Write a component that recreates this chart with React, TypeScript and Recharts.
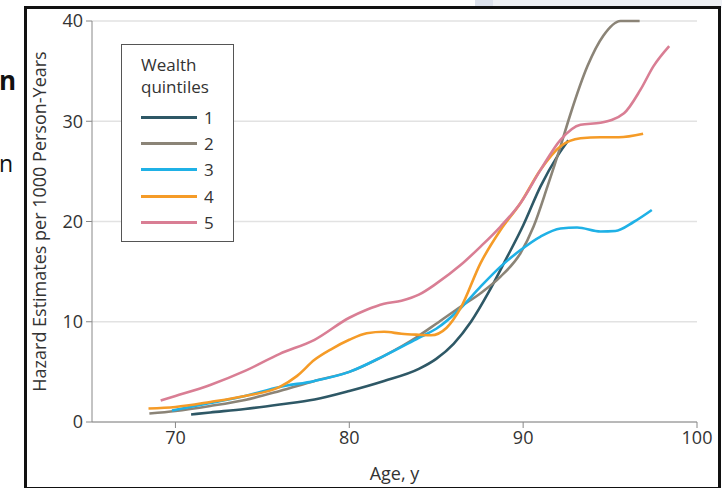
import React from 'react';
import { LineChart, Line, XAxis, YAxis, CartesianGrid, Legend } from 'recharts';

const FONT = "'Open Sans', 'Liberation Sans', sans-serif";

const quintiles = ['1', '2', '3', '4', '5'];
const colors = ['#2e5866', '#8b8477', '#1fb1e6', '#f59b27', '#d97e94'];

const ageQ1 = [70.9, 72, 74, 76, 78, 80, 82, 84, 85, 86, 87, 88, 89, 90, 91, 92, 92.6];
const rateQ1 = [0.75, 0.95, 1.3, 1.75, 2.25, 3.1, 4.1, 5.3, 6.3, 7.8, 10.0, 12.9, 16.2, 19.6, 23.5, 26.6, 28.1];

const ageQ2 = [68.5, 70, 72, 74, 76, 78, 80, 82, 84, 85, 86.4, 87.55, 88.7, 89.85, 90.6, 91.4, 92.15, 92.7, 93.7, 94.6, 95.6, 96.7];
const rateQ2 = [0.85, 1.1, 1.6, 2.2, 3.1, 4.1, 5.0, 6.6, 8.6, 9.8, 11.5, 12.85, 14.5, 16.85, 19.5, 23.5, 27.5, 30.6, 35.5, 38.5, 40.0, 40.0];

const ageQ3 = [69.8, 72, 74, 76, 78, 80, 82, 84, 85, 86.4, 87.55, 88.7, 89.85, 91, 92.15, 93.1, 94.45, 95.3, 96.35, 97.4];
const rateQ3 = [1.15, 1.9, 2.6, 3.5, 4.1, 5.0, 6.6, 8.4, 9.3, 11.35, 13.5, 15.5, 17.15, 18.5, 19.3, 19.4, 19.0, 19.05, 19.95, 21.15];

const ageQ4 = [68.45, 70, 72, 74, 76, 77, 78, 79, 80, 81, 82, 83, 84, 84.7, 85.6, 86.4, 87.55, 88.7, 89.85, 91, 92.15, 93.3, 94.45, 95.5, 96.9];
const rateQ4 = [1.35, 1.5, 2.0, 2.6, 3.5, 4.6, 6.2, 7.3, 8.2, 8.85, 9.0, 8.8, 8.7, 8.65, 9.4, 11.35, 15.85, 19.15, 21.85, 25.15, 27.5, 28.3, 28.4, 28.4, 28.75];

const ageQ5 = [69.15, 70, 72, 74, 76, 78, 80, 81, 82, 83, 84, 85, 86.4, 87.55, 88.7, 89.85, 91, 92.15, 93.3, 94.45, 95.8, 96.75, 97.5, 98.4];
const rateQ5 = [2.15, 2.6, 3.7, 5.1, 6.8, 8.2, 10.4, 11.2, 11.8, 12.1, 12.7, 13.8, 15.65, 17.5, 19.5, 21.85, 25.15, 28.15, 29.65, 29.85, 30.8, 33.15, 35.5, 37.5];

const xTicks = [70, 80, 90, 100];
const yTicks = [0, 10, 20, 30, 40];

const toRows = (ages: number[], rates: number[]) => ages.map((age, i) => ({ age, rate: rates[i] }));

const series = [
  toRows(ageQ1, rateQ1),
  toRows(ageQ2, rateQ2),
  toRows(ageQ3, rateQ3),
  toRows(ageQ4, rateQ4),
  toRows(ageQ5, rateQ5),
];

const LegendBox = () => (
  <div
    style={{
      border: '1px solid #555',
      width: 113,
      height: 198,
      boxSizing: 'border-box',
      padding: '9px 0 0 19px',
      fontFamily: FONT,
      color: '#333',
      fontSize: 17,
      background: '#fff',
      textAlign: 'left',
    }}
  >
    <div style={{ lineHeight: '22px' }}>Wealth</div>
    <div style={{ lineHeight: '22px', marginBottom: 6 }}>quintiles</div>
    {quintiles.map((q, i) => (
      <div key={q} style={{ display: 'flex', alignItems: 'center', height: 26.3 }}>
        <span style={{ width: 56, height: 3, background: colors[i], display: 'inline-block' }} />
        <span style={{ marginLeft: 7 }}>{q}</span>
      </div>
    ))}
  </div>
);

export default function App() {
  return (
    <div style={{ position: 'absolute', left: 0, top: 0, width: 722, height: 488, background: '#fff', overflow: 'hidden' }}>
      <div style={{ position: 'absolute', left: 475, top: 0, width: 247, height: 8, background: '#eef0f4' }} />
      <div style={{ position: 'absolute', left: 475, top: 0, width: 18, height: 8, background: '#dde2ec' }} />
      <div style={{ position: 'absolute', left: -1, top: 62, fontFamily: FONT, fontWeight: 700, fontSize: 26, color: '#111' }}>n</div>
      <div style={{ position: 'absolute', left: -1, top: 147, fontFamily: FONT, fontSize: 23, color: '#111' }}>n</div>
      <div
        style={{
          position: 'absolute',
          left: 24,
          top: 6,
          width: 697,
          height: 484,
          border: '3px solid #111',
          boxSizing: 'border-box',
          background: '#fff',
        }}
      />
      <div style={{ position: 'absolute', left: 0, top: 0 }}>
        <LineChart width={722} height={488} margin={{ top: 21, right: 25, bottom: 0, left: 0 }}>
          <CartesianGrid horizontal vertical={false} stroke="#e2e2e2" strokeWidth={1.5} />
          <XAxis
            type="number"
            dataKey="age"
            domain={[65.2, 100]}
            ticks={xTicks}
            allowDataOverflow
            height={66}
            stroke="#888"
            tickSize={6}
            tickMargin={3}
            tick={{ fill: '#333', fontSize: 18, fontFamily: FONT }}
            label={{ value: 'Age, y', position: 'insideBottom', offset: 8, fill: '#333', fontSize: 18, fontFamily: FONT }}
          />
          <YAxis
            type="number"
            dataKey="rate"
            domain={[0, 40]}
            ticks={yTicks}
            width={92}
            stroke="#888"
            tickSize={6}
            tickMargin={3}
            tick={{ fill: '#333', fontSize: 18, fontFamily: FONT }}
            label={{
              value: 'Hazard Estimates per 1000 Person-Years',
              angle: -90,
              position: 'insideLeft',
              offset: 40,
              style: { textAnchor: 'middle' },
              fill: '#333',
              fontSize: 18,
              fontFamily: FONT,
            }}
          />
          <Legend
            layout="vertical"
            align="center"
            verticalAlign="middle"
            content={() => <LegendBox />}
            wrapperStyle={{ position: 'absolute', left: 121, top: 44, width: 113, height: 198, margin: 0 }}
          />
          {series.map((rows, i) => (
            <Line
              key={quintiles[i]}
              data={rows}
              dataKey="rate"
              name={quintiles[i]}
              type="monotone"
              stroke={colors[i]}
              strokeWidth={2.6}
              dot={false}
              isAnimationActive={false}
            />
          ))}
        </LineChart>
      </div>
    </div>
  );
}
